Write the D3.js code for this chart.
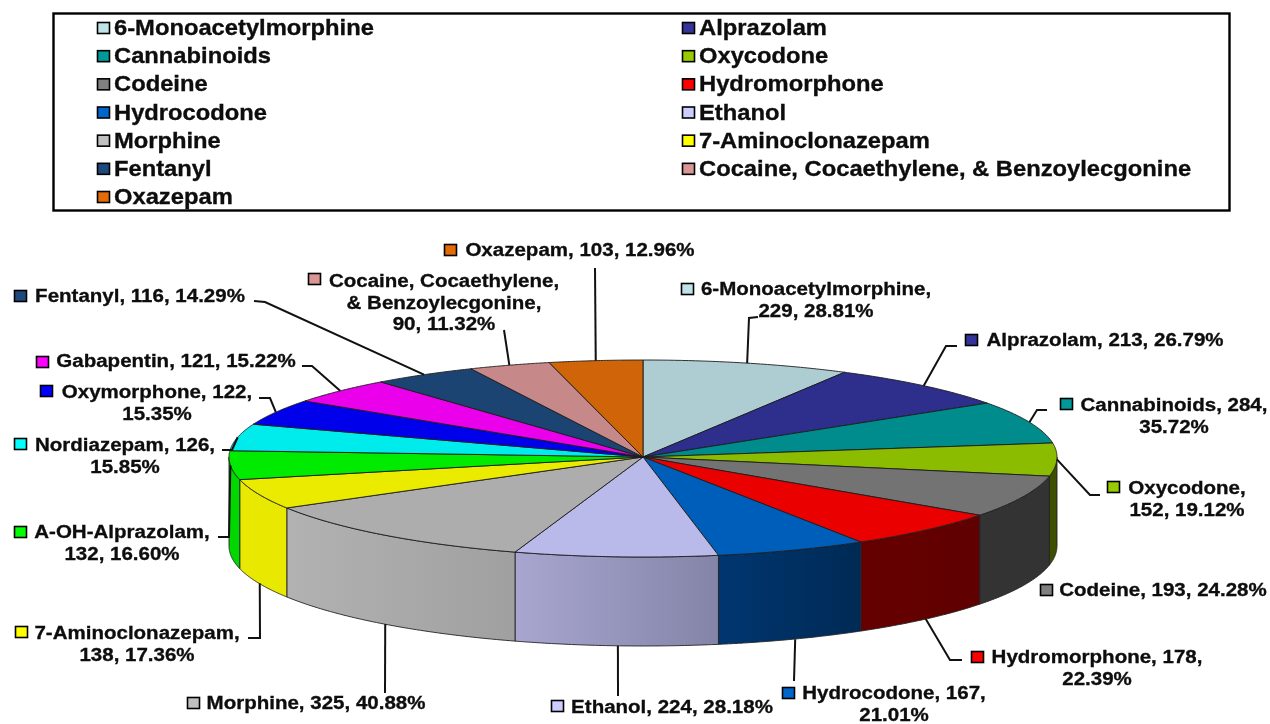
<!DOCTYPE html>
<html><head><meta charset="utf-8">
<script src="https://cdn.jsdelivr.net/npm/d3@7/dist/d3.min.js"></script>
<style>html,body{margin:0;padding:0;background:#fff}svg{display:block}text{font-family:"Liberation Sans",Arial,sans-serif;font-weight:bold;fill:#0a0a0a;stroke:#0a0a0a;stroke-width:.3}</style>
</head><body><svg id="c" width="1270" height="724"></svg>
<script>
const categories=["6-Monoacetylmorphine","Alprazolam","Cannabinoids","Oxycodone","Codeine","Hydromorphone","Hydrocodone","Ethanol","Morphine","7-Aminoclonazepam","A-OH-Alprazolam","Nordiazepam","Oxymorphone","Gabapentin","Fentanyl","Cocaine, Cocaethylene, & Benzoylecgonine","Oxazepam"];
const labelValues=[229,213,284,152,193,178,167,224,325,138,132,126,122,121,116,90,103];
const percentLabels=["28.81","26.79","35.72","19.12","24.28","22.39","21.01","28.18","40.88","17.36","16.60","15.85","15.35","15.22","14.29","11.32","12.96"];
// Slice weights as drawn: the Cannabinoids wedge is visibly narrower than its printed label.
const sliceValues=[229,213,200,152,193,178,167,224,325,138,132,126,122,121,116,90,103];
const legendItems=["6-Monoacetylmorphine","Alprazolam","Cannabinoids","Oxycodone","Codeine","Hydromorphone","Hydrocodone","Ethanol","Morphine","7-Aminoclonazepam","Fentanyl","Cocaine, Cocaethylene, & Benzoylecgonine","Oxazepam"];
const swatchColors=["#BFE3E8","#333399","#009999","#99CC00","#808080","#FF0000","#0066CC","#CCCCFF","#C0C0C0","#FFFF00","#00FF00","#00FFFF","#0000FF","#FF00FF","#1F497D","#D99694","#E36C09"];
const topColors=["#AECDD2","#2E2E8C","#008C8C","#8CBC00","#737373","#EB0000","#005EBB","#BABAEA","#ADADAD","#EBEB00","#00EB00","#00EBEB","#0000EB","#EB00EB","#1C4473","#C68888","#D06408"];
const wallColors=[["#666","#666"],["#222","#222"],["#044","#044"],["#3E4F00","#3E4F00"],["#333333","#333333"],["#660000","#600000"],["#003670","#002A55"],["#A8A6D0","#8484A8"],["#B2B2B2","#A0A0A0"],["#E8E800","#E8E800"],["#00D800","#00D800"],["#0CC","#0CC"],["#00C","#00C"],["#C0C","#C0C"],["#123","#123"],["#966","#966"],["#A50","#A50"]];

// label layout: marker left/top, text centre, first baseline, wrap mode, leader elbows, leader start offset
const labelLayout=[
{m:[681,283],cx:816,y:295,wrap:"name",elbow:[[749,318],[758,317]]},
{m:[965,334],cx:1105,y:346,wrap:"none",elbow:[[946,346],[957,346]]},
{m:[1060,398],cx:1174,y:411,wrap:"value",elbow:[[1037,410],[1047,410]]},
{m:[1107,481],cx:1187,y:494,wrap:"name",elbow:[[1090,495],[1100,495]]},
{m:[1040,584],cx:1163,y:596,wrap:"none",elbow:null},
{m:[971,651],cx:1097,y:663,wrap:"value",wall:1,elbow:[[950,660],[962,660]]},
{m:[782,687],cx:894,y:699,wrap:"value",wall:1,off:3,elbow:[[794,681]]},
{m:[551,700],cx:672,y:713,wrap:"none",wall:1,off:2,elbow:[[618,696]]},
{m:[187,697],cx:316,y:709,wrap:"none",wall:1,off:1,elbow:[[385,693]]},
{m:[15,626],cx:137,y:639,wrap:"name",wall:1,off:1,elbow:[[260,638],[248,638]]},
{m:[14,526],cx:122,y:538,wrap:"name",elbow:[[229,537],[218,537]]},
{m:[14,438],cx:125,y:451,wrap:"value",elbow:[[232,450],[222,450]]},
{m:[40,385],cx:157,y:398,wrap:"value",elbow:[[270,398],[259,398]]},
{m:[36,356],cx:176,y:367,wrap:"none",elbow:[[312,366],[302,366]]},
{m:[14,290],cx:140,y:302,wrap:"none",elbow:[[265,302],[254,301]]},
{m:[308,273],cx:444,y:287,wrap:"cocaine",elbow:[[504,330]]},
{m:[444,244],cx:580,y:256,wrap:"none",elbow:[[595,268]]}
];

const W=1270,H=724,cx=643,cy=457,rx=414,ryTop=97,ryBottom=100,depth=89,labelFont=19,labelStretch=1.08,legendFont=21.5,legendStretch=1.105;
const svg=d3.select("#c");
const defs=svg.append("defs");
defs.append("filter").attr("id","soft").attr("x","-5%").attr("y","-20%").attr("width","110%").attr("height","140%")
  .append("feGaussianBlur").attr("stdDeviation",0.45);
const project=(a,dz=0)=>{const c=Math.cos(a);return [cx+rx*Math.sin(a),cy-c*(c>=0?ryTop:ryBottom)+dz];};
const line=d3.line();
const arcs=d3.pie().sort(null).value(d=>d)(sliceValues);
const samples=(a0,a1,dz)=>d3.range(0,61).map(i=>project(a0+(a1-a0)*i/60,dz));

// legend box
svg.append("rect").attr("x",53.5).attr("y",13.5).attr("width",1176).attr("height",197).attr("fill","#fff").attr("stroke","#000").attr("stroke-width",2.4);
const rowY=d3.scalePoint().domain(d3.range(7)).range([28,197]);
const lg=svg.append("g").selectAll("g").data(legendItems).join("g")
  .attr("transform",(d,i)=>`translate(${i%2?682:97},${rowY(Math.floor(i/2))})`);
lg.append("rect").attr("x",.5).attr("y",-5.5).attr("width",12).attr("height",11).attr("stroke","#000").attr("stroke-width",1.6)
  .attr("fill",d=>swatchColors[categories.indexOf(d)]);
lg.append("text").attr("transform",`translate(17,7) scale(${legendStretch},1)`).attr("font-size",legendFont).attr("filter","url(#soft)").text(d=>d);

// walls
const PI=Math.PI;
const wg=svg.append("g");
arcs.forEach((s,i)=>{
  const a0=Math.max(s.startAngle,PI/2),a1=Math.min(s.endAngle,3*PI/2);
  if(a1<=a0)return;
  const id="w"+i,g=defs.append("linearGradient").attr("id",id);
  g.append("stop").attr("offset",0).attr("stop-color",wallColors[i][0]);
  g.append("stop").attr("offset",1).attr("stop-color",wallColors[i][1]);
  wg.append("path").attr("d",line([...samples(a0,a1,0),...samples(a1,a0,depth)])+"Z")
    .attr("fill",`url(#${id})`).attr("stroke","#222").attr("stroke-width",.9).attr("stroke-linejoin","round");
});
// top
svg.append("g").selectAll("path").data(arcs).join("path")
  .attr("d",s=>line([[cx,cy],...samples(s.startAngle,s.endAngle,0)])+"Z")
  .attr("fill",(s,i)=>topColors[i]).attr("stroke","#1c1c1c").attr("stroke-width",.9).attr("stroke-linejoin","round");

// labels
const lab=svg.append("g");
arcs.forEach((s,i)=>{
  const L=labelLayout[i],n=categories[i],v=labelValues[i],p=percentLabels[i]+"%";
  const mid=(s.startAngle+s.endAngle)/2;
  if(L.elbow){const st=project(mid,L.wall?depth:0);st[0]+=L.off||0;
    lab.append("path").attr("d",line([st,...L.elbow])).attr("fill","none").attr("stroke","#111").attr("stroke-width",2);}
  lab.append("rect").attr("x",L.m[0]+.5).attr("y",L.m[1]+.5).attr("width",12).attr("height",11).attr("fill",swatchColors[i]).attr("stroke","#000").attr("stroke-width",1.6);
  let lines;
  if(L.wrap==="name") lines=[n+",",`${v}, ${p}`];
  else if(L.wrap==="value") lines=[`${n}, ${v},`,p];
  else if(L.wrap==="cocaine") {const q=n.split(", & ");lines=[q[0]+",","& "+q[1]+",",`${v}, ${p}`];}
  else lines=[`${n}, ${v}, ${p}`];
  lines.forEach((t,k)=>lab.append("text").attr("transform",`translate(${L.cx},${L.y+k*21.7}) scale(${labelStretch},1)`).attr("text-anchor","middle")
    .attr("font-size",labelFont).attr("filter","url(#soft)").text(t));
});
</script></body></html>
